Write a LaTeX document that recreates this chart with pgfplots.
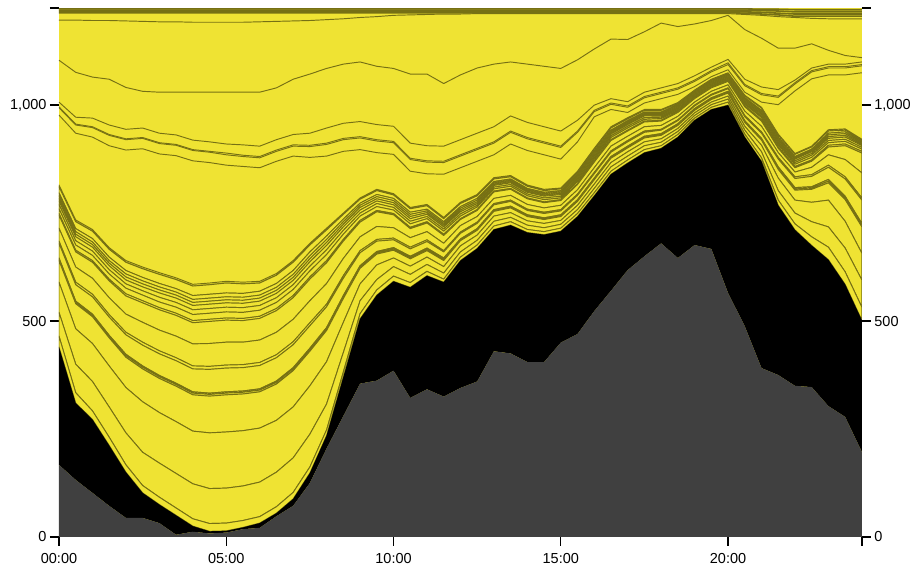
\documentclass[border=0pt]{standalone}
\usepackage{fontspec}
\setmainfont{Liberation Sans}
\usepackage{pgfplots}
\usepackage{pgfplotstable}
\pgfplotsset{compat=1.18}
\definecolor{yel}{RGB}{239,227,51}
\definecolor{olv}{RGB}{118,112,20}
\definecolor{gr}{RGB}{64,64,64}

\pgfplotstableread{
h g k d1 d2 d3 d4 d5 d6 d7 d8 d9 d10 d11 d12 d13 d14 d15 d16 d17 d18 d19
0 167 273 25 55 70 50 3 3 34 5 30 30 4 11 10 8 6 6 7 14 4
0.5 132 178 24 66 82 58 3 3 38 6 35 35 4 12 10 9 6 6 7 16 4
1 102 170 20 68 88 62 3 3 40 6 37 37 4 12 10 9 6 6 8 17 4
1.5 72 140 19 70 95 65 3 3 42 6 39 39 4 12 10 9 6 6 8 18 4
2 44 106 17 74 105 70 4 3 45 6 42 42 5 13 10 9 7 7 8 19 4
2.5 44 58 17 77 117 76 4 3 48 7 46 45 5 13 10 9 7 7 8 20 4
3 32 43 17 79 117 79 4 3 50 7 48 47 5 13 11 10 7 7 8 21 4
3.5 5 45 17 80 120 82 4 3 52 7 50 48 5 14 11 10 7 7 8 21 4
4 12 13 17 81 122 84 4 3 53 7 51 49 5 14 11 10 7 7 9 22 4
4.5 8 5 18 81 129 85 4 3 55 7 53 51 5 14 11 10 7 7 9 22 4
5 10 4 18 81 130 86 4 3 55 7 53 51 5 14 11 10 7 7 9 23 4
5.5 18 4 16 80 128 85 4 3 54 7 52 50 5 14 11 10 7 7 9 22 4
6 21 11 15 80 125 84 4 3 54 7 52 50 5 14 11 10 7 7 9 19 4
6.5 48 7 15 80 120 84 4 3 54 7 52 50 5 14 11 10 7 7 9 19 4
7 72 16 15 80 118 84 4 3 53 7 52 50 5 14 11 10 7 7 9 19 4
7.5 125 23 14 76 112 80 4 3 52 7 51 50 5 14 11 10 7 7 9 16 4
8 205 30 13 60 98 72 4 3 48 6 48 48 5 14 11 10 7 7 8 14 4
8.5 280 90 12 45 70 55 4 3 40 6 40 40 4 12 9 8 6 6 6 11 3
9 355 150 12 30 39 36 3 3 30 5 32 34 4 10 7 7 6 5 5 9 3
9.5 362 198 12 24 34 25 3 3 24 4 30 34 3 9 7 6 5 5 5 9 3
10 385 207 12 22 20 18 3 3 18 4 24 30 3 8 6 6 5 5 5 8 3
10.5 322 256 11 19 19 17 3 3 17 4 22 21 3 8 6 6 5 5 5 8 3
11 342 263 10 16 17 15 3 3 15 4 19 20 3 7 5 5 4 4 4 8 3
11.5 325 265 7 14 15 14 3 3 14 3 17 18 3 7 5 5 4 4 4 7 3
12 345 295 8 12 14 12 2 2 13 3 15 14 2 6 5 5 4 4 4 7 3
12.5 360 308 8 11 12 11 2 2 12 3 13 14 2 6 4 4 4 4 4 6 3
13 430 282 8 11 12 11 2 2 11 3 12 15 2 5 4 4 3 3 3 6 3
13.5 425 297 8 10 11 11 2 2 11 3 11 14 2 5 4 4 3 3 3 5 3
14 405 300 7 10 10 10 2 2 10 3 11 13 2 5 4 4 3 3 3 5 3
14.5 405 295 7 9 10 9 2 2 10 3 10 12 2 5 4 4 3 3 3 4 3
15 450 258 7 9 9 9 2 2 9 3 10 11 2 4 4 4 3 3 3 4 2
15.5 470 272 7 9 10 9 2 2 10 3 10 12 2 5 4 4 3 3 3 4 3
16 523 267 7 10 10 10 2 2 10 3 11 13 2 5 4 4 3 3 3 5 3
16.5 570 270 7 10 10 10 2 2 10 3 11 13 2 5 4 4 3 3 3 5 3
17 618 248 7 9 10 9 2 2 10 3 10 12 2 5 4 4 3 3 3 4 3
17.5 650 240 7 9 9 9 2 2 9 3 10 11 2 4 4 4 3 3 3 4 2
18 680 220 6 8 8 8 2 2 8 2 9 10 2 4 3 3 3 3 3 4 2
18.5 646 280 6 7 7 7 2 2 7 2 8 9 2 3 3 3 2 2 3 3 2
19 676 289 5 6 6 6 2 2 6 2 7 8 2 3 2 2 2 2 2 3 2
19.5 667 323 5 6 6 6 2 2 6 2 7 8 2 3 2 2 2 2 2 3 2
20 565 435 7 7 7 7 2 2 6 2 7 8 2 3 2 2 2 2 2 3 2
20.5 488 438 7 9 9 9 2 2 9 3 10 10 2 4 3 3 3 3 3 4 2
21 391 479 8 14 15 12 2 2 12 3 13 12 3 5 4 4 3 3 3 5 2
21.5 375 393 12 22 29 20 3 3 18 4 11 10 3 5 4 4 4 3 3 5 2
22 350 361 14 25 30 23 3 3 21 4 11 10 3 5 4 4 4 3 3 5 2
22.5 347 328 20 35 45 30 3 3 24 4 17 14 3 6 5 4 4 3 3 5 2
23 303 339 29 47 62 40 4 4 28 5 24 18 4 6 5 5 4 4 4 5 3
23.5 278 307 29 55 62 50 4 4 40 5 40 32 4 6 5 5 4 4 4 4 3
24 197 305 30 63 62 61 4 4 54 5 58 46 4 5 4 4 3 3 3 3 3
}\lowtab

\pgfplotstableread{
h c4 c3 c2 c1 bl al t1 t2 t3 t4
0 977 994 996 1007 1104 1197 1214 1217 1220 1223
0.5 935 954 956 972 1076 1197 1214 1217 1220 1223
1 926 948 950 970 1065 1196 1214 1217 1220 1223
1.5 906 930 932 954 1060 1196 1214 1217 1220 1223
2 896 920 922 944 1041 1195 1214 1217 1220 1223
2.5 899 923 925 947 1032 1194 1214 1217 1220 1223
3 887 911 913 935 1030 1193 1214 1217 1220 1223
3.5 883 907 909 931 1030 1193 1214 1217 1220 1223
4 871 895 897 919 1030 1192 1214 1217 1220 1223
4.5 867 891 893 915 1030 1192 1214 1217 1220 1223
5 861 885 889 910 1030 1192 1214 1217 1220 1223
5.5 858 881 884 908 1030 1192 1214 1217 1220 1223
6 855 878 881 905 1030 1193 1214 1217 1220 1223
6.5 870 893 896 920 1040 1194 1214 1217 1220 1223
7 882 905 908 932 1060 1195 1214 1217 1220 1223
7.5 879 904 907 935 1072 1196 1214 1217 1220 1223
8 882 909 912 947 1085 1198 1214 1217 1220 1223
8.5 893 920 923 958 1095 1200 1214 1217 1220 1223
9 897 924 927 962 1100 1203 1214 1217 1220 1223
9.5 890 917 920 955 1090 1205 1214 1217 1220 1223
10 886 913 916 951 1085 1208 1214 1217 1220 1223
10.5 847 874 877 912 1072 1209 1214 1217 1220 1223
11 841 868 871 906 1072 1210 1214 1217 1220 1223
11.5 840 867 870 905 1050 1211 1214 1217 1220 1223
12 855 882 885 920 1070 1211 1214 1217 1220 1223
12.5 870 897 900 935 1086 1212 1214 1217 1220 1223
13 885 912 915 950 1095 1212 1214 1217 1220 1223
13.5 910 937 940 975 1100 1212 1214 1217 1220 1223
14 895 922 925 960 1095 1212 1214 1217 1220 1223
14.5 885 912 915 950 1090 1212 1214 1217 1220 1223
15 875 902 905 940 1085 1212 1214 1217 1220 1223
15.5 915 937 940 965 1105 1212 1214 1217 1220 1223
16 973 985 988 1000 1130 1212 1214 1217 1220 1223
16.5 990 1002 1005 1015 1153 1212 1214 1217 1220 1223
17 983 995 998 1008 1152 1212 1214 1217 1220 1223
17.5 1005 1017 1020 1030 1170 1212 1214 1217 1220 1223
18 1015 1027 1030 1040 1190 1212 1214 1217 1220 1223
18.5 1025 1037 1040 1050 1182 1212 1214 1217 1220 1223
19 1043 1055 1058 1068 1188 1212 1214 1217 1220 1223
19.5 1066 1077 1080 1088 1196 1212 1214 1217 1220 1223
20 1082 1094 1098 1106 1208 1212 1214 1217 1220 1223
20.5 1030 1045 1048 1060 1175 1210 1213 1216 1220 1223
21 1007 1024 1027 1042 1155 1208 1211 1215 1219 1222
21.5 1001 1018 1021 1036 1132 1205 1209 1213 1218 1222
22 1033 1049 1052 1058 1132 1203 1206 1211 1216 1221
22.5 1061 1077 1080 1086 1142 1201 1206 1211 1216 1221
23 1070 1086 1089 1095 1127 1200 1206 1211 1216 1221
23.5 1070 1086 1089 1095 1115 1200 1206 1211 1216 1221
24 1075 1091 1094 1100 1110 1200 1206 1211 1216 1221
}\uptab

\begin{document}
\begin{tikzpicture}
\pgfplotsset{
  common/.style={
    width=803pt, height=529pt, scale only axis,
    xmin=0, xmax=24, ymin=0, ymax=1225,
    axis line style={draw=none},
    tick align=outside, major tick length=9pt,
    tick style={black, line width=1.3pt},
    tick label style={font=\fontsize{14.5}{17}\selectfont},
    ytick={0,500,1000}, yticklabels={0,500,{1,000}},
    extra y ticks={1225}, extra y tick labels={},
    no marks,
  },
  lay/.style={fill=yel, draw=olv, line width=0.95pt, line join=round},
  ln/.style={draw=olv, line width=0.95pt, line join=round},
  band/.style={draw=olv, line width=1.6pt, line join=round},
}
\begin{axis}[common, name=ax, stack plots=y,
  axis background/.style={fill=yel},
  ytick pos=left, xtick pos=bottom,
  xtick={0,5,10,15,20}, xticklabels={00:00,05:00,10:00,15:00,20:00},
  xticklabel style={yshift=-4pt},
  extra x ticks={24}, extra x tick labels={}]
\addplot[fill=gr, draw=none] table[x=h,y=g]{\lowtab} \closedcycle;
\addplot[fill=black, draw=none] table[x=h,y=k]{\lowtab} \closedcycle;
\addplot[lay] table[x=h,y=d1]{\lowtab} \closedcycle;
\addplot[lay] table[x=h,y=d2]{\lowtab} \closedcycle;
\addplot[lay] table[x=h,y=d3]{\lowtab} \closedcycle;
\addplot[lay] table[x=h,y=d4]{\lowtab} \closedcycle;
\addplot[lay] table[x=h,y=d5]{\lowtab} \closedcycle;
\addplot[lay] table[x=h,y=d6]{\lowtab} \closedcycle;
\addplot[lay] table[x=h,y=d7]{\lowtab} \closedcycle;
\addplot[lay] table[x=h,y=d8]{\lowtab} \closedcycle;
\addplot[lay] table[x=h,y=d9]{\lowtab} \closedcycle;
\addplot[lay] table[x=h,y=d10]{\lowtab} \closedcycle;
\addplot[lay] table[x=h,y=d11]{\lowtab} \closedcycle;
\addplot[lay] table[x=h,y=d12]{\lowtab} \closedcycle;
\addplot[lay] table[x=h,y=d13]{\lowtab} \closedcycle;
\addplot[lay] table[x=h,y=d14]{\lowtab} \closedcycle;
\addplot[lay] table[x=h,y=d15]{\lowtab} \closedcycle;
\addplot[lay] table[x=h,y=d16]{\lowtab} \closedcycle;
\addplot[lay] table[x=h,y=d17]{\lowtab} \closedcycle;
\addplot[lay] table[x=h,y=d18]{\lowtab} \closedcycle;
\addplot[lay] table[x=h,y=d19]{\lowtab} \closedcycle;
\end{axis}
\begin{axis}[common, ytick pos=right, yticklabel pos=right, xtick=\empty]
\addplot[ln] table[x=h,y=c4]{\uptab};
\addplot[ln] table[x=h,y=c3]{\uptab};
\addplot[ln] table[x=h,y=c2]{\uptab};
\addplot[ln] table[x=h,y=c1]{\uptab};
\addplot[ln] table[x=h,y=bl]{\uptab};
\addplot[ln] table[x=h,y=al]{\uptab};
\addplot[band] table[x=h,y=t1]{\uptab};
\addplot[band] table[x=h,y=t2]{\uptab};
\addplot[band] table[x=h,y=t3]{\uptab};
\addplot[band] table[x=h,y=t4]{\uptab};
\end{axis}
\path ([xshift=-59pt,yshift=-33pt]ax.south west) rectangle ([xshift=52pt,yshift=8pt]ax.north east);
\end{tikzpicture}
\end{document}
